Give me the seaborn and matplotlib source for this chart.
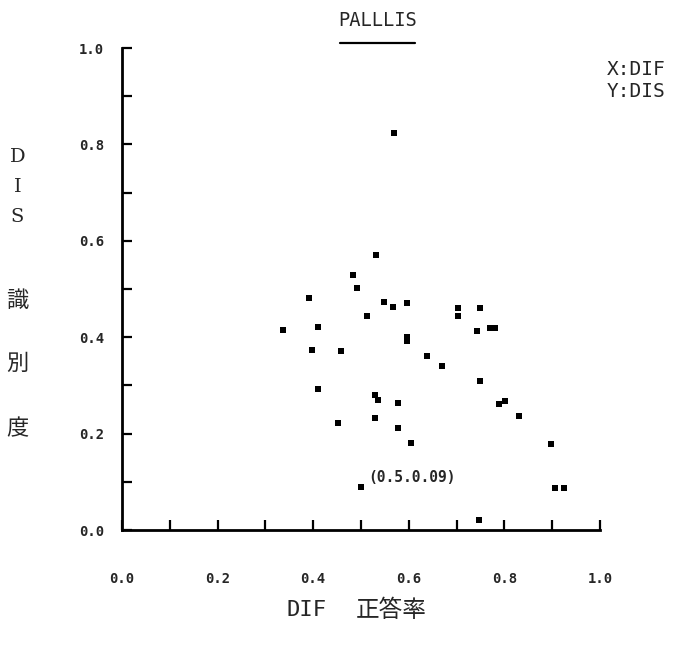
import matplotlib
matplotlib.use("Agg")
import matplotlib.pyplot as plt
import seaborn as sns
import pandas as pd
import numpy as np

# Item statistics: difficulty (proportion correct) and discrimination index
dif = [0.569, 0.532, 0.483, 0.491, 0.392, 0.549, 0.568, 0.597,
       0.702, 0.702, 0.750, 0.513, 0.337, 0.411, 0.743, 0.771, 0.780,
       0.597, 0.597, 0.398, 0.459, 0.638, 0.669, 0.750, 0.410,
       0.530, 0.536, 0.577, 0.789, 0.801, 0.831, 0.529, 0.451, 0.577,
       0.605, 0.897, 0.500, 0.906, 0.925, 0.746]
dis = [0.824, 0.571, 0.530, 0.503, 0.482, 0.474, 0.462, 0.472,
       0.461, 0.443, 0.461, 0.443, 0.415, 0.421, 0.412, 0.419, 0.419,
       0.400, 0.392, 0.373, 0.372, 0.360, 0.341, 0.310, 0.293,
       0.281, 0.270, 0.263, 0.261, 0.268, 0.237, 0.232, 0.221, 0.212,
       0.180, 0.178, 0.090, 0.087, 0.087, 0.021]

marked_point = (0.5, 0.09)
major_ticks = [0.0, 0.2, 0.4, 0.6, 0.8, 1.0]
tick_labels = ["0.0", "0.2", "0.4", "0.6", "0.8", "1.0"]
minor_ticks = [0.1, 0.3, 0.5, 0.7, 0.9]

df = pd.DataFrame({"DIF": dif, "DIS": dis})

sns.set_style("white")
plt.rcParams["font.family"] = ["DejaVu Sans Mono", "Noto Sans CJK JP"]

fig = plt.figure(figsize=(6.99, 6.47), dpi=100)
ax = fig.add_axes([0.1745, 0.1808, 0.6838, 0.7450])

sns.scatterplot(data=df, x="DIF", y="DIS", marker="s", s=16, color="black",
                edgecolor="black", linewidth=0, ax=ax, legend=False)

ax.set_xlim(0.0, 1.0)
ax.set_ylim(0.0, 1.0)
ax.margins(0)
sns.despine(ax=ax, top=True, right=True)
for side in ("left", "bottom"):
    ax.spines[side].set_linewidth(2.0)
    ax.spines[side].set_color("black")

ax.set_xticks(major_ticks)
ax.set_xticks(minor_ticks, minor=True)
ax.set_yticks(major_ticks)
ax.set_yticks(minor_ticks, minor=True)
ax.set_xticklabels(tick_labels, fontsize=10, fontweight="bold")
ax.set_yticklabels(tick_labels, fontsize=10, fontweight="bold")
ax.tick_params(axis="both", which="both", direction="in", length=7,
               width=1.6, color="black", bottom=True, left=True,
               top=False, right=False)
ax.tick_params(axis="x", which="major", pad=30)
ax.tick_params(axis="y", which="major", pad=13)

ax.set_xlabel("")
ax.set_ylabel("")

# Title with underline
fig.text(0.540, 0.968, "PALLLIS", ha="center", va="center", fontsize=13.5)
fig.add_artist(plt.Line2D([0.487, 0.594], [0.934, 0.934],
                          transform=fig.transFigure, color="black", lw=1.6))

# Axis variable key
fig.text(0.868, 0.893, "X:DIF", ha="left", va="center", fontsize=14)
fig.text(0.868, 0.859, "Y:DIS", ha="left", va="center", fontsize=14)

# Vertical y-axis caption
y_chars = [("D", 0.757), ("I", 0.711), ("S", 0.665),
           ("識", 0.536), ("別", 0.439), ("度", 0.338)]
for ch, yy in y_chars:
    fig.text(0.025, yy, ch, ha="center", va="center", fontsize=14 if ch in "DIS" else 16,
             family=["DejaVu Serif", "Noto Sans CJK JP"]
             if ch in "DIS" else ["Noto Sans CJK JP"])

# x-axis caption
fig.text(0.439, 0.057, "DIF", ha="center", va="center", fontsize=16)
fig.text(0.560, 0.057, "正答率", ha="center", va="center", fontsize=17,
         family=["Noto Sans CJK JP"])

# Annotated point
ax.annotate(f"({marked_point[0]:.1f}.{marked_point[1]:.2f})",
            xy=marked_point, xytext=(5, 1), textcoords="offset points",
            fontsize=10.5, fontweight="bold", ha="left", va="bottom")

fig.savefig("out.png", dpi=100, facecolor="white")
